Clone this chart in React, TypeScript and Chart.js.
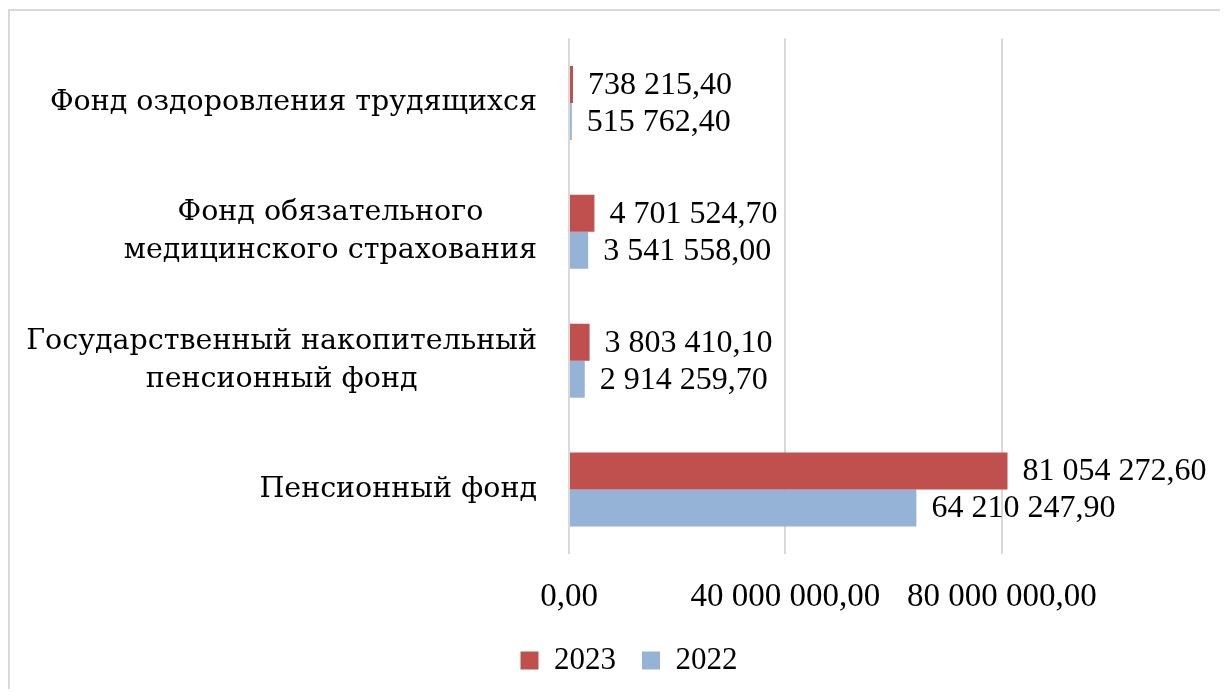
import React, { useEffect, useRef } from "react";
import { Chart, registerables } from "chart.js";

Chart.register(...registerables);

const categories: string[][] = [
  ["Фонд оздоровления трудящихся"],
  ["Фонд обязательного", "медицинского страхования"],
  ["Государственный накопительный", "пенсионный фонд"],
  ["Пенсионный фонд"],
];
const seriesNames: string[] = ["2023", "2022"];
const values2023: number[] = [738215.4, 4701524.7, 3803410.1, 81054272.6];
const values2022: number[] = [515762.4, 3541558.0, 2914259.7, 64210247.9];
const tickValues: number[] = [0, 40000000, 80000000];

const RED = "#C0504D";
const BLUE = "#95B3D7";

function fmt(v: number): string {
  const fixed = Math.abs(v).toFixed(2);
  const [intPart, dec] = fixed.split(".");
  const grouped = intPart.replace(/\B(?=(\d{3})+(?!\d))/g, " ");
  return (v < 0 ? "-" : "") + grouped + "," + dec;
}

const catFont = "28.5px 'DejaVu Serif'";
const numFont = "32px 'Liberation Serif'";

const labelsPlugin = {
  id: "customLabels",
  afterDatasetsDraw(chart: any) {
    const ctx = chart.ctx;
    ctx.save();
    // data labels
    ctx.font = numFont;
    ctx.fillStyle = "#000";
    ctx.textAlign = "left";
    ctx.textBaseline = "middle";
    chart.data.datasets.forEach((ds: any, di: number) => {
      const meta = chart.getDatasetMeta(di);
      meta.data.forEach((el: any, i: number) => {
        ctx.fillText(fmt(ds.data[i]), el.x + 15, el.y + 1);
      });
    });
    // category labels
    const yScale = chart.scales.y;
    const right = chart.chartArea.left - 32;
    ctx.font = catFont;
    ctx.textAlign = "center";
    const lh = 38;
    categories.forEach((lines, i) => {
      const y = yScale.getPixelForValue(i);
      let maxW = 0;
      lines.forEach((l) => {
        maxW = Math.max(maxW, ctx.measureText(l).width);
      });
      const cx = right - maxW / 2;
      lines.forEach((l, j) => {
        ctx.fillText(l, cx, y + (j - (lines.length - 1) / 2) * lh);
      });
    });
    ctx.restore();
  },
};

export default function App() {
  const ref = useRef<HTMLCanvasElement | null>(null);
  useEffect(() => {
    if (!ref.current) return;
    const chart = new Chart(ref.current, {
      type: "bar",
      data: {
        labels: categories,
        datasets: [
          {
            label: seriesNames[0],
            data: values2023,
            backgroundColor: RED,
            categoryPercentage: 0.574,
            barPercentage: 1,
          },
          {
            label: seriesNames[1],
            data: values2022,
            backgroundColor: BLUE,
            categoryPercentage: 0.574,
            barPercentage: 1,
          },
        ],
      },
      options: {
        indexAxis: "y",
        responsive: false,
        animation: false,
        layout: { padding: { left: 138, right: 118, top: 27.5, bottom: 2 } },
        plugins: {
          tooltip: { enabled: false },
          legend: {
            position: "bottom",
            labels: {
              font: { family: "'Liberation Serif'", size: 31 },
              color: "#000",
              boxWidth: 18,
              boxHeight: 18,
              padding: 26,
            },
          },
        },
        scales: {
          x: {
            min: 0,
            max: 100000000,
            grid: { color: "#d9d9d9", lineWidth: 2, drawTicks: false },
            border: { display: false },
            afterBuildTicks: (scale: any) => {
              scale.ticks = tickValues.map((v) => ({ value: v }));
            },
            afterFit: (scale: any) => {
              scale.height = 65;
            },
            ticks: {
              autoSkip: false,
              padding: 24,
              color: "#000",
              font: { family: "'Liberation Serif'", size: 33 },
              callback: (v: any) => fmt(Number(v)),
            },
          },
          y: {
            grid: { display: false },
            border: { display: false },
            ticks: { display: false },
            afterFit: (scale: any) => {
              scale.width = 421;
            },
          },
        },
      },
      plugins: [labelsPlugin],
    } as any);
    return () => chart.destroy();
  }, []);

  return (
    <div style={{ position: "relative", height: 681 }}>
      <div
        style={{
          position: "absolute",
          left: 0,
          top: 1,
          right: -8,
          bottom: 0,
          borderTop: "2px solid #d9d9d9",
          borderLeft: "2px solid #d9d9d9",
          background: "#fff",
        }}
      >
        <canvas ref={ref} width={1218} height={677} style={{ display: "block" }} />
      </div>
    </div>
  );
}
